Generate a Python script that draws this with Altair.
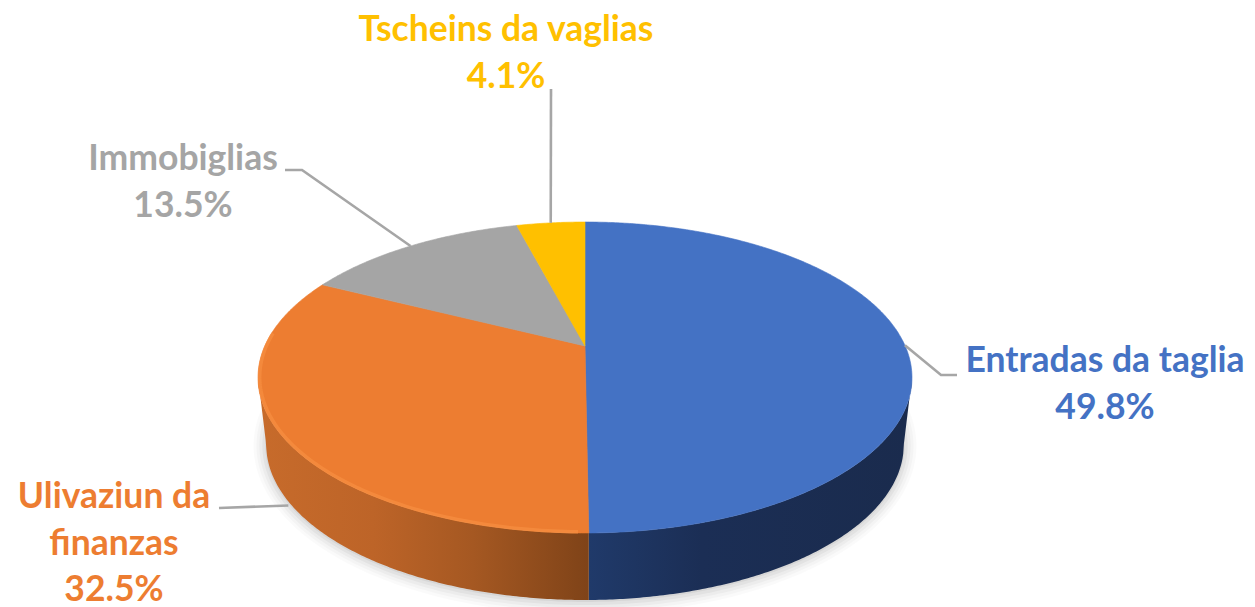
import numpy as np
import pandas as pd
import altair as alt

# --- chart values ---
names = ["Entradas da taglia", "Ulivaziun da finanzas", "Immobiglias", "Tscheins da vaglias"]
shares = [49.8, 32.5, 13.5, 4.1]
share_labels = ["49.8%", "32.5%", "13.5%", "4.1%"]
colors = ["#4472C4", "#ED7D31", "#A5A5A5", "#FFC000"]
label_lines = [["Entradas da taglia", "49.8%"],
               ["Ulivaziun da", "finanzas", "32.5%"],
               ["Immobiglias", "13.5%"],
               ["Tscheins da vaglias", "4.1%"]]

# --- page-pixel layout and tilted-disc perspective ---
W, H = 1239, 599
CX, CY = 585.0, 346.0
A, B, P = 320.2, 149.1, 0.2026
DEPTH = 67.0
BASE_XS = 0.975
LINE_H = 46.5
LABEL_POS = [(1105, 372), (114, 508), (183, 170), (506, 41)]
ELBOWS = [[(941, 375), (957, 375)], [(219, 508)], [(302, 170), (285, 170)], [(551, 89)]]
LEADER_DROP = [0, DEPTH + 4, 0, 0]
LEADER_XS = [1.0, BASE_XS, 1.0, 1.0]

X = alt.X("x:Q", scale=alt.Scale(domain=[8, 8 + W], nice=False, zero=False), axis=None)
Y = alt.Y("y:Q", scale=alt.Scale(domain=[8 + H, 8], nice=False, zero=False), axis=None)
Y2 = alt.Y2("y2:Q")


def project(phi_deg, r=1.0, dy=0.0, xs=1.0):
    p = np.radians(np.asarray(phi_deg, dtype=float))
    s, c = r * np.sin(p), r * np.cos(p)
    d = 1 + P * c
    return CX + xs * A * s / d, CY - B * c / d + dy


def poly_layer(xs, ys, **mark):
    df = pd.DataFrame({"x": xs, "y": ys, "i": np.arange(len(xs))})
    return alt.Chart(df).mark_line(**mark).encode(x=X, y=Y, order="i:Q")


layers = []
cum = np.concatenate([[0.0], np.cumsum(shares) / np.sum(shares) * 360.0])
phi_all = np.linspace(0, 360, 361)

# soft shadow beneath the disc
for grow, op in [(13, 0.02), (10, 0.025), (7, 0.03), (4, 0.04), (1, 0.05)]:
    sx, sy = project(phi_all, dy=DEPTH + 1, xs=BASE_XS)
    sx = CX + (sx - CX) * (1 + grow / 327)
    sy = (CY + 30 + DEPTH) + (sy - (CY + 30 + DEPTH)) * (1 + grow / 154)
    layers.append(poly_layer(sx, sy, fill="#000000", fillOpacity=op, strokeOpacity=0))

# side wall (front half of the disc), split where the blue slice ends
phi_ext = np.degrees(np.arccos(-P))
front = np.linspace(phi_ext, cum[1], 160)
bx_r, by_r = project(np.linspace(phi_ext, 181, 170), dy=DEPTH, xs=BASE_XS)
tx_r, ty_r = project(front)
bottom_x = np.concatenate([bx_r, [tx_r[0]]])
bottom_y = np.concatenate([by_r, [ty_r[0]]])
order_r = np.argsort(bottom_x)
y2_r = np.interp(tx_r, bottom_x[order_r], bottom_y[order_r])
side_r = pd.DataFrame({"x": tx_r, "y": ty_r, "y2": y2_r})
layers.append(alt.Chart(side_r).mark_area(
    color=alt.Gradient(gradient="linear", x1=0, x2=1, y1=0, y2=0, stops=[
        alt.GradientStop(color="#203a6a", offset=0),
        alt.GradientStop(color="#1b2e55", offset=0.35),
        alt.GradientStop(color="#1a2b4d", offset=1)])
).encode(x=X, y=Y, y2=Y2))

front_l = np.linspace(cum[1], 360 - phi_ext, 160)
bx_l, by_l = project(np.linspace(179, 360 - phi_ext, 170), dy=DEPTH, xs=BASE_XS)
tx_l, ty_l = project(front_l)
bottom_xl = np.concatenate([bx_l, [tx_l[-1]]])
bottom_yl = np.concatenate([by_l, [ty_l[-1]]])
order_l = np.argsort(bottom_xl)
y2_l = np.interp(tx_l, bottom_xl[order_l], bottom_yl[order_l])
side_l = pd.DataFrame({"x": tx_l, "y": ty_l, "y2": y2_l})
layers.append(alt.Chart(side_l).mark_area(
    color=alt.Gradient(gradient="linear", x1=0, x2=1, y1=0, y2=0, stops=[
        alt.GradientStop(color="#c76b2b", offset=0),
        alt.GradientStop(color="#bd6428", offset=0.35),
        alt.GradientStop(color="#a55822", offset=0.65),
        alt.GradientStop(color="#7f4318", offset=1)])
).encode(x=X, y=Y, y2=Y2))

# top surface slices, sized from the shares
for k, col in enumerate(colors):
    phi = np.linspace(cum[k], cum[k + 1], max(3, int((cum[k + 1] - cum[k]) * 2)))
    ex, ey = project(phi)
    px = np.concatenate([[CX], ex, [CX]])
    py = np.concatenate([[CY], ey, [CY]])
    layers.append(poly_layer(px, py, fill=col, stroke=col, strokeWidth=0.6))

# bevel highlight along the front rim
rim_o = np.linspace(181, 275, 110)
rx, ry = project(rim_o, r=0.995)
layers.append(poly_layer(rx, ry, stroke="#F68D40", strokeWidth=3.5, opacity=0.75))

# leader lines anchored on each slice's mid angle
for k in range(len(shares)):
    ax, ay = project((cum[k] + cum[k + 1]) / 2, dy=LEADER_DROP[k], xs=LEADER_XS[k])
    pts = [(float(ax), float(ay))] + ELBOWS[k]
    layers.append(poly_layer([p[0] for p in pts], [p[1] for p in pts],
                             stroke="#A6A6A6", strokeWidth=2.6))

# labels
rows = []
for k, lines in enumerate(label_lines):
    for j, line in enumerate(lines):
        rows.append({"x": LABEL_POS[k][0], "y": LABEL_POS[k][1] + j * LINE_H,
                     "t": line, "c": colors[k]})
text_df = pd.DataFrame(rows)
layers.append(alt.Chart(text_df).mark_text(
    font="Lato", fontWeight="bold", fontSize=35.5, align="center", baseline="alphabetic"
).encode(x=X, y=Y, text="t:N", color=alt.Color("c:N", scale=None)))

chart = alt.layer(*layers).properties(
    width=W, height=H, padding=0, autosize=alt.AutoSizeParams(type="none"),
    background="white"
).configure_view(stroke=None)

chart.save("out.html", embed_options={"renderer": "svg", "actions": False})
